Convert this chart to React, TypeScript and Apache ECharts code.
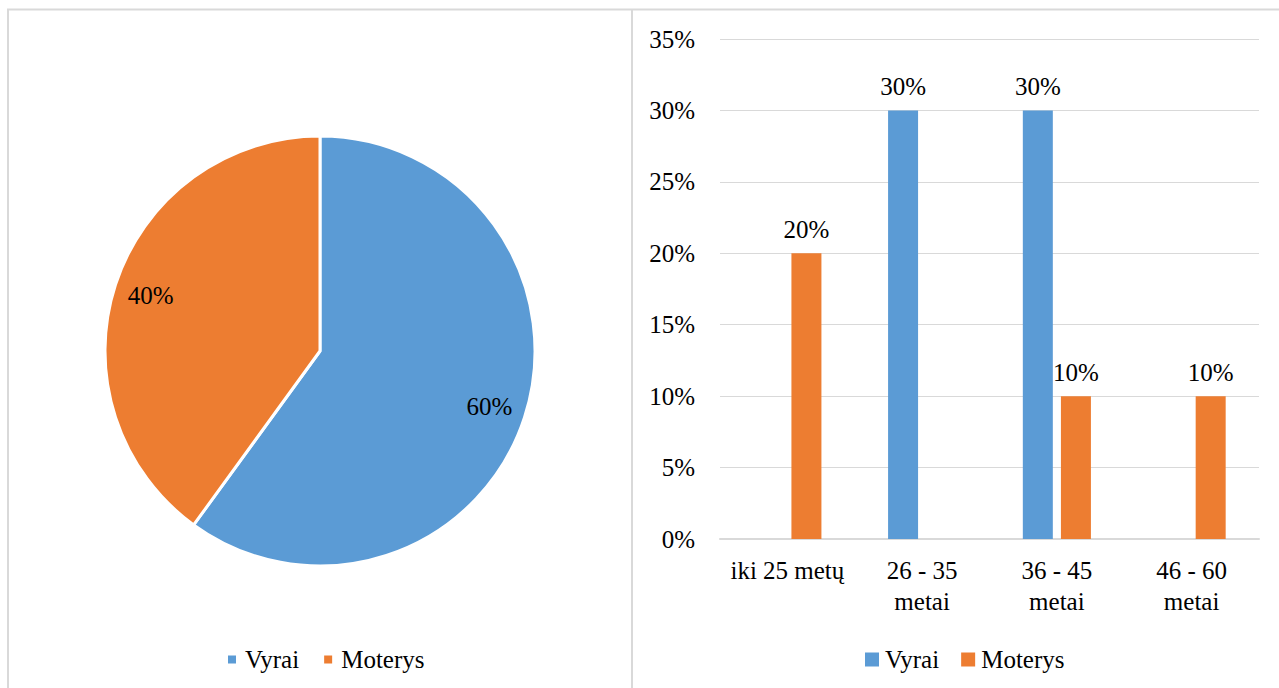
import React, { useEffect, useRef } from "react";
import * as echarts from "echarts";

const seriesNames = ["Vyrai", "Moterys"];
const colors = ["#5B9BD5", "#ED7D31"];
const pieValues = [60, 40];
const categories = ["iki 25 metų", "26 - 35 metai", "36 - 45 metai", "46 - 60 metai"];
const vyraiValues = [0, 30, 30, 0];
const moterysValues = [20, 0, 10, 10];
const yTicks = { min: 0, max: 35, interval: 5 };

const FONT = "'Liberation Serif', 'Times New Roman', 'DejaVu Serif', serif";
const FS = 25;

export default function App() {
  const ref = useRef<HTMLDivElement>(null);
  useEffect(() => {
    if (!ref.current) return;
    const chart = echarts.init(ref.current, undefined, { renderer: "svg" });
    const barLabel = {
      show: true,
      position: "top",
      distance: 11,
      fontSize: FS,
      color: "#000",
      fontFamily: FONT,
      formatter: (p: any) => (p.value ? p.value + "%" : ""),
    };
    chart.setOption({
      animation: false,
      textStyle: { fontFamily: FONT, color: "#000" },
      graphic: [
        { type: "line", shape: { x1: 7, y1: 9.5, x2: 1279, y2: 9.5 }, style: { stroke: "#d9d9d9", lineWidth: 2 } },
        { type: "line", shape: { x1: 8, y1: 9, x2: 8, y2: 688 }, style: { stroke: "#d9d9d9", lineWidth: 2 } },
        { type: "line", shape: { x1: 632, y1: 9, x2: 632, y2: 688 }, style: { stroke: "#d9d9d9", lineWidth: 2 } },
      ],
      legend: [
        {
          left: 223,
          top: 642,
          itemWidth: 8,
          itemHeight: 8,
          itemGap: 25,
          icon: "rect",
          textStyle: { fontSize: FS, color: "#000", fontFamily: FONT, padding: [0, 0, 0, 4] },
          data: seriesNames.map((n, i) => ({ name: n, itemStyle: { color: colors[i] } })),
        },
        {
          left: 860,
          top: 642,
          itemWidth: 14,
          itemHeight: 14,
          itemGap: 22,
          icon: "rect",
          textStyle: { fontSize: FS, color: "#000", fontFamily: FONT, padding: [0, 0, 0, 1] },
          data: seriesNames.map((n, i) => ({ name: n, itemStyle: { color: colors[i] } })),
        },
      ],
      grid: { left: 720, right: 20, top: 39, bottom: 149 },
      xAxis: {
        type: "category",
        data: categories,
        axisLine: { lineStyle: { color: "#d9d9d9", width: 2 } },
        axisTick: { show: false },
        axisLabel: {
          fontSize: FS,
          color: "#000",
          fontFamily: FONT,
          margin: 16,
          lineHeight: 31,
          interval: 0,
          formatter: (v: string) => v.replace(" metai", "\nmetai"),
        },
      },
      yAxis: {
        type: "value",
        min: yTicks.min,
        max: yTicks.max,
        interval: yTicks.interval,
        axisLine: { show: false },
        axisTick: { show: false },
        splitLine: { lineStyle: { color: "#d9d9d9", width: 1 } },
        axisLabel: { fontSize: FS, color: "#000", fontFamily: FONT, margin: 25, formatter: "{value}%" },
      },
      series: [
        {
          name: seriesNames[0],
          type: "bar",
          data: vyraiValues,
          barWidth: 30,
          barGap: "27%",
          itemStyle: { color: colors[0] },
          label: barLabel,
        },
        {
          name: seriesNames[1],
          type: "bar",
          data: moterysValues,
          barWidth: 30,
          barGap: "27%",
          itemStyle: { color: colors[1] },
          label: barLabel,
        },
        {
          type: "pie",
          center: [320, 351],
          radius: [0, 215],
          startAngle: 90,
          clockwise: true,
          label: { show: false },
          labelLine: { show: false },
          itemStyle: { borderColor: "#fff", borderWidth: 3 },
          data: seriesNames.map((n, i) => ({ name: n, value: pieValues[i], itemStyle: { color: colors[i] } })),
        },
        {
          type: "pie",
          center: [320, 351],
          radius: [138, 212],
          startAngle: 90,
          clockwise: true,
          silent: true,
          label: {
            show: true,
            position: "inside",
            fontSize: FS,
            color: "#000",
            fontFamily: FONT,
            formatter: (p: any) => p.value + "%",
          },
          labelLine: { show: false },
          itemStyle: { color: "rgba(0,0,0,0)" },
          data: seriesNames.map((n, i) => ({ name: n, value: pieValues[i] })),
        },
      ],
    });
    return () => chart.dispose();
  }, []);
  return (
    <div
      ref={ref}
      style={{ position: "absolute", left: 0, top: 0, width: 1279, height: 688, background: "#fff" }}
    />
  );
}
